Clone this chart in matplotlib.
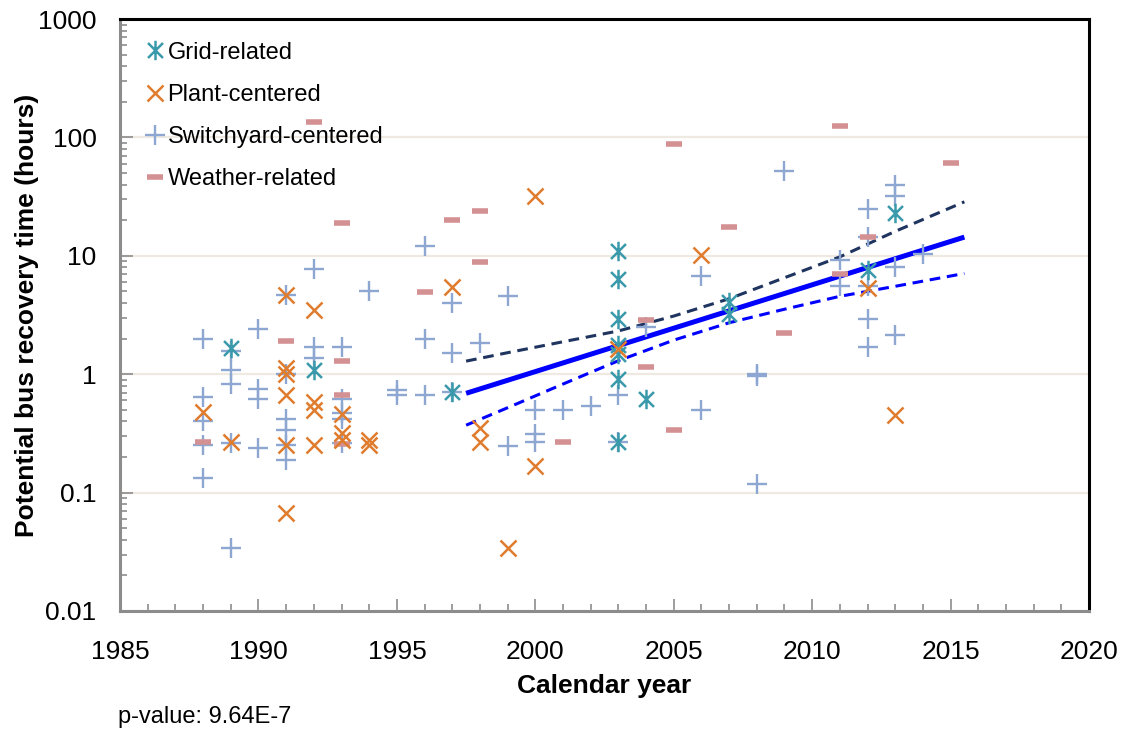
import numpy as np
import matplotlib
matplotlib.use('Agg')
import matplotlib.pyplot as plt
from matplotlib.path import Path
from matplotlib.ticker import LogLocator, NullFormatter, MultipleLocator

plt.rcParams['font.family'] = ['Liberation Sans', 'DejaVu Sans']

# ---- data (year, hours) ----
grid_years = [1989, 1992, 1997, 2003, 2003, 2003, 2003, 2003, 2003, 2003, 2004, 2007, 2007, 2012, 2013]
grid_hours = [1.68, 1.08, 0.71, 11.0, 6.42, 2.92, 1.78, 1.47, 0.91, 0.265, 0.615, 4.08, 3.21, 7.55, 23.0]

plant_years = [1988, 1989, 1991, 1991, 1991, 1991, 1991, 1991, 1992, 1992, 1992, 1992,
               1993, 1993, 1993, 1994, 1994, 1997, 1998, 1998, 1999, 2000, 2000, 2003,
               2006, 2012, 2013]
plant_hours = [0.48, 0.27, 4.7, 1.12, 1.0, 0.67, 0.25, 0.067, 3.47, 0.58, 0.50, 0.25,
               0.46, 0.32, 0.28, 0.28, 0.25, 5.45, 0.35, 0.265, 0.034, 31.8, 0.167, 1.62,
               10.1, 5.4, 0.45]

switch_years = [1988, 1988, 1988, 1988, 1988,
                1989, 1989, 1989, 1989, 1989,
                1990, 1990, 1990, 1990,
                1991, 1991, 1991, 1991, 1991, 1991,
                1992, 1992, 1992,
                1993, 1993, 1993, 1993, 1993,
                1994, 1995, 1995,
                1996, 1996, 1996,
                1997, 1997, 1997,
                1998, 1999, 1999,
                2000, 2000, 2000, 2001, 2002,
                2003, 2003, 2004,
                2006, 2006,
                2008, 2008, 2008, 2009,
                2011, 2011,
                2012, 2012, 2012, 2012, 2012,
                2013, 2013, 2013, 2013, 2014]
switch_hours = [1.97, 0.645, 0.40, 0.25, 0.134,
                1.57, 1.08, 0.83, 0.26, 0.034,
                2.43, 0.757, 0.62, 0.236,
                4.7, 1.0, 0.42, 0.337, 0.25, 0.188,
                7.7, 1.70, 1.37,
                1.70, 0.62, 0.47, 0.42, 0.26,
                5.0, 0.73, 0.665,
                12.1, 2.0, 0.665,
                4.0, 1.51, 0.71,
                1.84, 4.58, 0.248,
                0.503, 0.312, 0.268, 0.50, 0.537,
                0.665, 0.265, 2.51,
                6.71, 0.50,
                1.0, 0.96, 0.118, 52.0,
                9.2, 5.6,
                25.0, 14.3, 5.6, 2.95, 1.70,
                39.4, 31.8, 8.05, 2.13, 10.3]

weather_years = [1988, 1991, 1992, 1993, 1993, 1993, 1993, 1996, 1997, 1998, 1998,
                 2001, 2004, 2004, 2005, 2005, 2007, 2009, 2011, 2011, 2012, 2015]
weather_hours = [0.268, 1.91, 134, 18.8, 1.29, 0.67, 0.255, 4.95, 20.0, 23.7, 8.87,
                 0.268, 2.89, 1.14, 87.3, 0.337, 17.5, 2.23, 124, 7.08, 14.4, 60.7]

# regression line and confidence band
fit_years = [1997.5, 2015.5]
fit_hours = [0.69, 14.4]
band_years = [1997.5, 1999, 2001, 2003, 2005, 2007, 2009, 2011, 2013, 2015.5]
band_upper = [1.29, 1.52, 1.88, 2.32, 3.10, 4.34, 6.53, 9.8, 16.1, 28.6]
band_lower = [0.371, 0.521, 0.826, 1.30, 1.94, 2.72, 3.54, 4.55, 5.53, 7.1]

# asterisk marker (x plus vertical bar)
star = Path([(-1, -1), (1, 1), (-1, 1), (1, -1), (0, -1.3), (0, 1.3)],
            [Path.MOVETO, Path.LINETO, Path.MOVETO, Path.LINETO, Path.MOVETO, Path.LINETO])

fig = plt.figure(figsize=(11.23, 7.34), dpi=100)
ax = fig.add_axes([0.1069, 0.1676, 0.8628, 0.8064])

fs = 17
tfs = 19
ax.plot(grid_years, grid_hours, linestyle='none', marker=star, ms=14, mew=1.8,
        color='#3A9AAB', label='Grid-related', zorder=5)
ax.plot(plant_years, plant_hours, linestyle='none', marker='x', ms=11, mew=1.8,
        color='#E07C2E', label='Plant-centered', zorder=5)
ax.plot(switch_years, switch_hours, linestyle='none', marker='+', ms=14, mew=1.7,
        color='#8EA7D2', label='Switchyard-centered', zorder=4)
ax.plot(weather_years, weather_hours, linestyle='none', marker='_', ms=11, mew=4,
        color='#D49193', label='Weather-related', zorder=4)

ax.plot(fit_years, fit_hours, color='#0000FF', lw=3.6, solid_capstyle='butt', zorder=3)
ax.plot(band_years, band_upper, color='#1F3560', lw=2.2, dashes=(3.5, 2.2), zorder=3)
ax.plot(band_years, band_lower, color='#0000FF', lw=2.2, dashes=(3.5, 2.2), zorder=3)

ax.set_yscale('log')
ax.set_ylim(0.01, 1000)
ax.set_xlim(1985, 2020)

ax.xaxis.set_major_locator(MultipleLocator(5))
ax.xaxis.set_minor_locator(MultipleLocator(1))
ax.yaxis.set_minor_locator(LogLocator(base=10, subs=np.arange(2, 10), numticks=20))
ax.yaxis.set_minor_formatter(NullFormatter())
ax.set_yticks([0.01, 0.1, 1, 10, 100, 1000])
ax.set_yticklabels(['0.01', '0.1', '1', '10', '100', '1000'])

ax.tick_params(axis='both', which='major', direction='in', length=9, width=1.2,
               color='#8C8C8C', labelsize=tfs)
ax.tick_params(axis='both', which='minor', direction='in', length=5, width=1.2,
               color='#8C8C8C')
ax.tick_params(axis='x', which='major', pad=21)
ax.tick_params(axis='y', which='major', pad=17)

ax.grid(axis='y', which='major', color='#EEEAE2', lw=1.6)
ax.set_axisbelow(True)

for side in ['left', 'bottom']:
    ax.spines[side].set_color('#8C8C8C')
    ax.spines[side].set_linewidth(2.2)
for side in ['top', 'right']:
    ax.spines[side].set_color('black')
    ax.spines[side].set_linewidth(2.2)

ax.set_xlabel('Calendar year', fontsize=tfs, fontweight='bold', labelpad=7)
ax.set_ylabel('Potential bus recovery time (hours)', fontsize=tfs, fontweight='bold', labelpad=-1)

ax.legend(loc='upper left', bbox_to_anchor=(0.01, 0.99), frameon=False, fontsize=fs,
          handlelength=0.7, handletextpad=0.2, labelspacing=0.86, borderaxespad=0.4, borderpad=0.3)

fig.text(0.105, 0.023, 'p-value: 9.64E-7', fontsize=fs, ha='left', va='center')

fig.savefig('out.png', dpi=100)
